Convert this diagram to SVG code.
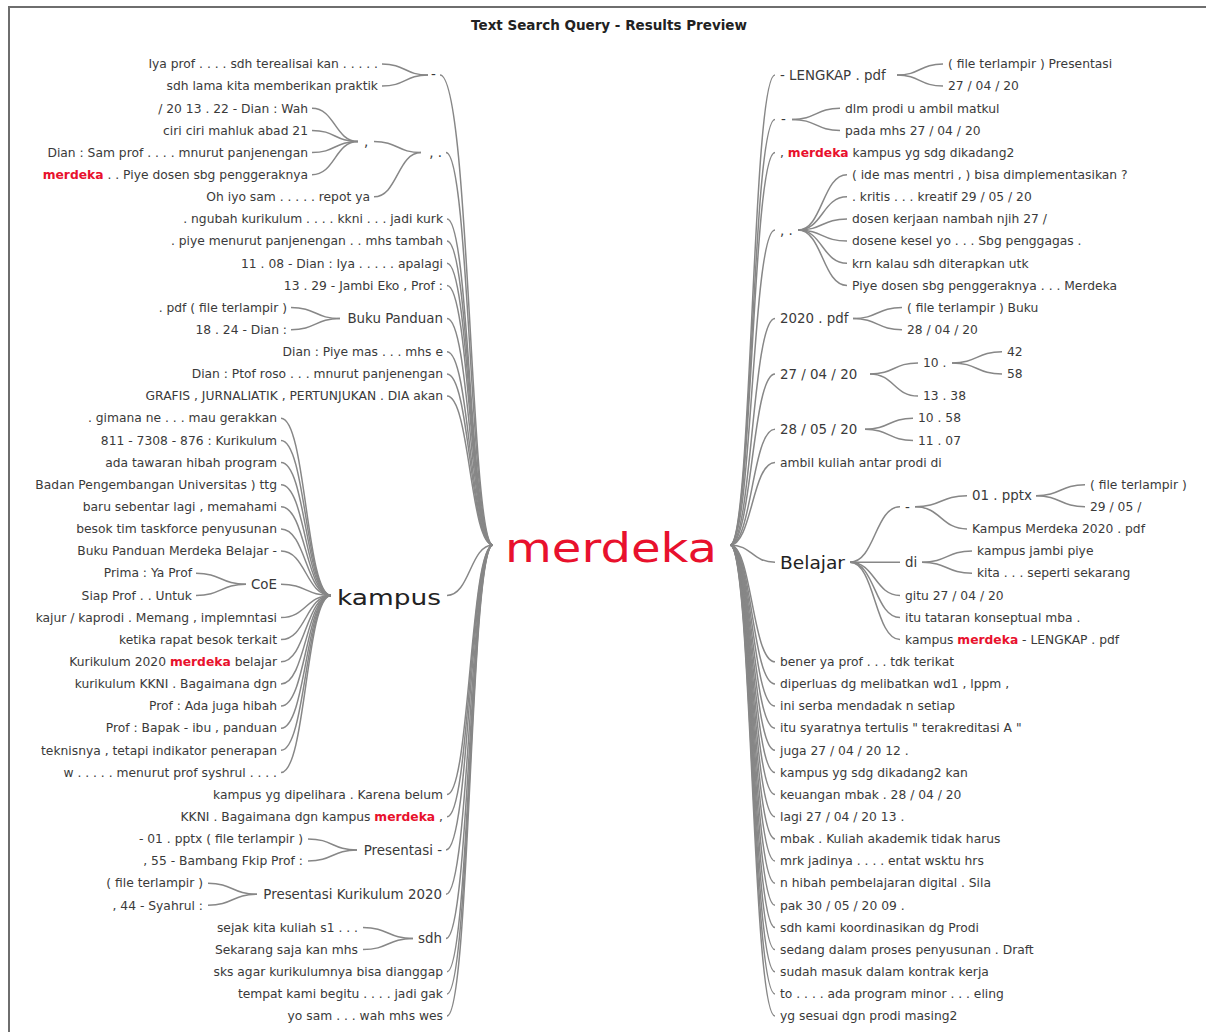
<svg xmlns="http://www.w3.org/2000/svg" width="1206" height="1032" viewBox="0 0 1206 1032">
<style>
text{font-family:"DejaVu Sans","Noto Sans",sans-serif;fill:#3a3a3a}
.t{font-size:12.3px}
.m{font-size:13.4px}
.e{text-anchor:end}
.hl{fill:#e8112d;font-weight:bold}
.c path{fill:none;stroke:#878787;stroke-width:1.5}
</style>
<rect x="0" y="0" width="1206" height="1032" fill="#ffffff"/>
<rect x="9" y="7" width="1300" height="1100" fill="none" stroke="#6e6e6e" stroke-width="2"/>
<text x="609" y="30" text-anchor="middle" style="font-size:13.5px;font-weight:bold;fill:#222">Text Search Query - Results Preview</text>

<g class="c" id="connectors">
<path d="M440,75.1 C470,75.1 470,545 493,545"/>
<path d="M446,152.6 C470,152.6 470,545 493,545"/>
<path d="M447,219 C470,219 470,545 493,545"/>
<path d="M447,241.1 C470,241.1 470,545 493,545"/>
<path d="M447,263.3 C470,263.3 470,545 493,545"/>
<path d="M447,285.4 C470,285.4 470,545 493,545"/>
<path d="M447,318.6 C470,318.6 470,545 493,545"/>
<path d="M447,351.8 C470,351.8 470,545 493,545"/>
<path d="M447,374 C470,374 470,545 493,545"/>
<path d="M447,396.1 C470,396.1 470,545 493,545"/>
<path d="M447,595.4 C470,595.4 470,545 493,545"/>
<path d="M447,794.6 C470,794.6 470,545 493,545"/>
<path d="M447,816.8 C470,816.8 470,545 493,545"/>
<path d="M446,850 C470,850 470,545 493,545"/>
<path d="M446,894.3 C470,894.3 470,545 493,545"/>
<path d="M446,938.5 C470,938.5 470,545 493,545"/>
<path d="M447,971.7 C470,971.7 470,545 493,545"/>
<path d="M447,993.9 C470,993.9 470,545 493,545"/>
<path d="M447,1016 C470,1016 470,545 493,545"/>
<path d="M382,64 C405,64 405,75.1 428,75.1"/>
<path d="M382,86.1 C405,86.1 405,75.1 428,75.1"/>
<path d="M374,141.5 C397.5,141.5 397.5,152.6 421,152.6"/>
<path d="M374,196.8 C397.5,196.8 397.5,152.6 421,152.6"/>
<path d="M312,108.3 C335,108.3 335,141.5 358,141.5"/>
<path d="M312,130.4 C335,130.4 335,141.5 358,141.5"/>
<path d="M312,152.6 C335,152.6 335,141.5 358,141.5"/>
<path d="M312,174.7 C335,174.7 335,141.5 358,141.5"/>
<path d="M291,307.5 C315.5,307.5 315.5,318.6 340,318.6"/>
<path d="M291,329.7 C315.5,329.7 315.5,318.6 340,318.6"/>
<path d="M281,418.2 C306,418.2 306,595.4 331,595.4"/>
<path d="M281,440.4 C306,440.4 306,595.4 331,595.4"/>
<path d="M281,462.5 C306,462.5 306,595.4 331,595.4"/>
<path d="M281,484.7 C306,484.7 306,595.4 331,595.4"/>
<path d="M281,506.8 C306,506.8 306,595.4 331,595.4"/>
<path d="M281,528.9 C306,528.9 306,595.4 331,595.4"/>
<path d="M281,551.1 C306,551.1 306,595.4 331,595.4"/>
<path d="M281,584.3 C306,584.3 306,595.4 331,595.4"/>
<path d="M281,617.5 C306,617.5 306,595.4 331,595.4"/>
<path d="M281,639.6 C306,639.6 306,595.4 331,595.4"/>
<path d="M281,661.8 C306,661.8 306,595.4 331,595.4"/>
<path d="M281,683.9 C306,683.9 306,595.4 331,595.4"/>
<path d="M281,706.1 C306,706.1 306,595.4 331,595.4"/>
<path d="M281,728.2 C306,728.2 306,595.4 331,595.4"/>
<path d="M281,750.3 C306,750.3 306,595.4 331,595.4"/>
<path d="M281,772.5 C306,772.5 306,595.4 331,595.4"/>
<path d="M196,573.2 C221,573.2 221,584.3 246,584.3"/>
<path d="M196,595.4 C221,595.4 221,584.3 246,584.3"/>
<path d="M308,838.9 C332.5,838.9 332.5,850 357,850"/>
<path d="M308,861 C332.5,861 332.5,850 357,850"/>
<path d="M208,883.2 C232.5,883.2 232.5,894.3 257,894.3"/>
<path d="M208,905.3 C232.5,905.3 232.5,894.3 257,894.3"/>
<path d="M363,927.5 C388,927.5 388,938.5 413,938.5"/>
<path d="M363,949.6 C388,949.6 388,938.5 413,938.5"/>
<path d="M775,75.1 C752,75.1 752,545 730,545"/>
<path d="M775,119.4 C752,119.4 752,545 730,545"/>
<path d="M775,152.6 C752,152.6 752,545 730,545"/>
<path d="M775,230.1 C752,230.1 752,545 730,545"/>
<path d="M775,318.6 C752,318.6 752,545 730,545"/>
<path d="M775,374 C752,374 752,545 730,545"/>
<path d="M775,429.3 C752,429.3 752,545 730,545"/>
<path d="M775,462.5 C752,462.5 752,545 730,545"/>
<path d="M775,562.2 C752,562.2 752,545 730,545"/>
<path d="M775,661.8 C752,661.8 752,545 730,545"/>
<path d="M775,683.9 C752,683.9 752,545 730,545"/>
<path d="M775,706.1 C752,706.1 752,545 730,545"/>
<path d="M775,728.2 C752,728.2 752,545 730,545"/>
<path d="M775,750.3 C752,750.3 752,545 730,545"/>
<path d="M775,772.5 C752,772.5 752,545 730,545"/>
<path d="M775,794.6 C752,794.6 752,545 730,545"/>
<path d="M775,816.8 C752,816.8 752,545 730,545"/>
<path d="M775,838.9 C752,838.9 752,545 730,545"/>
<path d="M775,861 C752,861 752,545 730,545"/>
<path d="M775,883.2 C752,883.2 752,545 730,545"/>
<path d="M775,905.3 C752,905.3 752,545 730,545"/>
<path d="M775,927.5 C752,927.5 752,545 730,545"/>
<path d="M775,949.6 C752,949.6 752,545 730,545"/>
<path d="M775,971.7 C752,971.7 752,545 730,545"/>
<path d="M775,993.9 C752,993.9 752,545 730,545"/>
<path d="M775,1016 C752,1016 752,545 730,545"/>
<path d="M943,64 C920,64 920,75.1 897,75.1"/>
<path d="M943,86.1 C920,86.1 920,75.1 897,75.1"/>
<path d="M840,108.3 C816,108.3 816,119.4 792,119.4"/>
<path d="M840,130.4 C816,130.4 816,119.4 792,119.4"/>
<path d="M847,174.7 C822.5,174.7 822.5,230.1 798,230.1"/>
<path d="M847,196.8 C822.5,196.8 822.5,230.1 798,230.1"/>
<path d="M847,219 C822.5,219 822.5,230.1 798,230.1"/>
<path d="M847,241.1 C822.5,241.1 822.5,230.1 798,230.1"/>
<path d="M847,263.3 C822.5,263.3 822.5,230.1 798,230.1"/>
<path d="M847,285.4 C822.5,285.4 822.5,230.1 798,230.1"/>
<path d="M902,307.5 C877.5,307.5 877.5,318.6 853,318.6"/>
<path d="M902,329.7 C877.5,329.7 877.5,318.6 853,318.6"/>
<path d="M918,362.9 C894,362.9 894,374 870,374"/>
<path d="M918,396.1 C894,396.1 894,374 870,374"/>
<path d="M1002,351.8 C977,351.8 977,362.9 952,362.9"/>
<path d="M1002,374 C977,374 977,362.9 952,362.9"/>
<path d="M913,418.2 C889,418.2 889,429.3 865,429.3"/>
<path d="M913,440.4 C889,440.4 889,429.3 865,429.3"/>
<path d="M900,506.8 C875,506.8 875,562.2 850,562.2"/>
<path d="M900,562.2 C875,562.2 875,562.2 850,562.2"/>
<path d="M900,595.4 C875,595.4 875,562.2 850,562.2"/>
<path d="M900,617.5 C875,617.5 875,562.2 850,562.2"/>
<path d="M900,639.6 C875,639.6 875,562.2 850,562.2"/>
<path d="M967,495.7 C941,495.7 941,506.8 915,506.8"/>
<path d="M967,528.9 C941,528.9 941,506.8 915,506.8"/>
<path d="M1085,484.7 C1060.5,484.7 1060.5,495.7 1036,495.7"/>
<path d="M1085,506.8 C1060.5,506.8 1060.5,495.7 1036,495.7"/>
<path d="M972,551.1 C947,551.1 947,562.2 922,562.2"/>
<path d="M972,573.2 C947,573.2 947,562.2 922,562.2"/>
</g>

<g id="n-root"><text x="505" y="562" textLength="212" lengthAdjust="spacingAndGlyphs" style="font-size:40px;fill:#e8112d">merdeka</text></g>

<g id="n-l-dash"><text class="m" x="431" y="79">-</text></g>
<g id="n-l-l1"><text class="t e" x="378" y="68.2">Iya prof . . . . sdh terealisai kan . . . . .</text></g>
<g id="n-l-l2"><text class="t e" x="378" y="90.3">sdh lama kita memberikan praktik</text></g>
<g id="n-l-commadot"><text class="m e" x="442" y="157.3">, .</text></g>
<g id="n-l-comma"><text class="m" x="364" y="146.2">,</text></g>
<g id="n-l-l3"><text class="t e" x="308" y="112.5">/ 20 13 . 22 - Dian : Wah</text></g>
<g id="n-l-l4"><text class="t e" x="308" y="134.6">ciri ciri mahluk abad 21</text></g>
<g id="n-l-l5"><text class="t e" x="308" y="156.8">Dian : Sam prof . . . . mnurut panjenengan</text></g>
<g id="n-l-l6"><text class="t e" x="308" y="178.9"><tspan class="hl">merdeka</tspan> . . Piye dosen sbg penggeraknya</text></g>
<g id="n-l-l7"><text class="t e" x="370" y="201">Oh iyo sam . . . . . repot ya</text></g>
<g id="n-l-l8"><text class="t e" x="443" y="223.2">. ngubah kurikulum . . . . kkni . . . jadi kurk</text></g>
<g id="n-l-l9"><text class="t e" x="443" y="245.3">. piye menurut panjenengan . . mhs tambah</text></g>
<g id="n-l-l10"><text class="t e" x="443" y="267.5">11 . 08 - Dian : Iya . . . . . apalagi</text></g>
<g id="n-l-l11"><text class="t e" x="443" y="289.6">13 . 29 - Jambi Eko , Prof :</text></g>
<g id="n-l-buku"><text class="m e" x="443" y="323.3">Buku Panduan</text></g>
<g id="n-l-l12"><text class="t e" x="287" y="311.7">. pdf ( file terlampir )</text></g>
<g id="n-l-l13"><text class="t e" x="287" y="333.9">18 . 24 - Dian :</text></g>
<g id="n-l-l14"><text class="t e" x="443" y="356">Dian : Piye mas . . . mhs e</text></g>
<g id="n-l-l15"><text class="t e" x="443" y="378.2">Dian : Ptof roso . . . mnurut panjenengan</text></g>
<g id="n-l-l16"><text class="t e" x="443" y="400.3">GRAFIS , JURNALIATIK , PERTUNJUKAN . DIA akan</text></g>
<g id="n-l-kampus"><text x="337" y="605" textLength="104" lengthAdjust="spacingAndGlyphs" style="font-size:22px;fill:#222">kampus</text></g>
<g id="n-l-l17"><text class="t e" x="277" y="422.4">. gimana ne . . . mau gerakkan</text></g>
<g id="n-l-l18"><text class="t e" x="277" y="444.6">811 - 7308 - 876 : Kurikulum</text></g>
<g id="n-l-l19"><text class="t e" x="277" y="466.7">ada tawaran hibah program</text></g>
<g id="n-l-l20"><text class="t e" x="277" y="488.9">Badan Pengembangan Universitas ) ttg</text></g>
<g id="n-l-l21"><text class="t e" x="277" y="511">baru sebentar lagi , memahami</text></g>
<g id="n-l-l22"><text class="t e" x="277" y="533.1">besok tim taskforce penyusunan</text></g>
<g id="n-l-l23"><text class="t e" x="277" y="555.3">Buku Panduan Merdeka Belajar -</text></g>
<g id="n-l-coe"><text class="m e" x="277" y="589">CoE</text></g>
<g id="n-l-l24"><text class="t e" x="192" y="577.4">Prima : Ya Prof</text></g>
<g id="n-l-l25"><text class="t e" x="192" y="599.6">Siap Prof . . Untuk</text></g>
<g id="n-l-l26"><text class="t e" x="277" y="621.7">kajur / kaprodi . Memang , implemntasi</text></g>
<g id="n-l-l27"><text class="t e" x="277" y="643.8">ketika rapat besok terkait</text></g>
<g id="n-l-l28"><text class="t e" x="277" y="666">Kurikulum 2020 <tspan class="hl">merdeka</tspan> belajar</text></g>
<g id="n-l-l29"><text class="t e" x="277" y="688.1">kurikulum KKNI . Bagaimana dgn</text></g>
<g id="n-l-l30"><text class="t e" x="277" y="710.3">Prof : Ada juga hibah</text></g>
<g id="n-l-l31"><text class="t e" x="277" y="732.4">Prof : Bapak - ibu , panduan</text></g>
<g id="n-l-l32"><text class="t e" x="277" y="754.5">teknisnya , tetapi indikator penerapan</text></g>
<g id="n-l-l33"><text class="t e" x="277" y="776.7">w . . . . . menurut prof syshrul . . . .</text></g>
<g id="n-l-l34"><text class="t e" x="443" y="798.8">kampus yg dipelihara . Karena belum</text></g>
<g id="n-l-l35"><text class="t e" x="443" y="821">KKNI . Bagaimana dgn kampus <tspan class="hl">merdeka</tspan> ,</text></g>
<g id="n-l-pres"><text class="m e" x="442" y="854.7">Presentasi -</text></g>
<g id="n-l-l36"><text class="t e" x="303" y="843.1">- 01 . pptx ( file terlampir )</text></g>
<g id="n-l-l37"><text class="t e" x="303" y="865.2">, 55 - Bambang Fkip Prof :</text></g>
<g id="n-l-presk"><text class="m e" x="442" y="899">Presentasi Kurikulum 2020</text></g>
<g id="n-l-l38"><text class="t e" x="203" y="887.4">( file terlampir )</text></g>
<g id="n-l-l39"><text class="t e" x="203" y="909.5">, 44 - Syahrul :</text></g>
<g id="n-l-sdh"><text class="m e" x="442" y="943.2">sdh</text></g>
<g id="n-l-l40"><text class="t e" x="358" y="931.7">sejak kita kuliah s1 . . .</text></g>
<g id="n-l-l41"><text class="t e" x="358" y="953.8">Sekarang saja kan mhs</text></g>
<g id="n-l-l42"><text class="t e" x="443" y="975.9">sks agar kurikulumnya bisa dianggap</text></g>
<g id="n-l-l43"><text class="t e" x="443" y="998.1">tempat kami begitu . . . . jadi gak</text></g>
<g id="n-l-l44"><text class="t e" x="443" y="1020.2">yo sam . . . wah mhs wes</text></g>

<g id="n-r-lengkap"><text class="m" x="780" y="79.8">- LENGKAP . pdf</text></g>
<g id="n-r-r1"><text class="t" x="948" y="68.2">( file terlampir ) Presentasi</text></g>
<g id="n-r-r2"><text class="t" x="948" y="90.3">27 / 04 / 20</text></g>
<g id="n-r-dash"><text class="m" x="781" y="124">-</text></g>
<g id="n-r-r3"><text class="t" x="845" y="112.5">dlm prodi u ambil matkul</text></g>
<g id="n-r-r4"><text class="t" x="845" y="134.6">pada mhs 27 / 04 / 20</text></g>
<g id="n-r-r5"><text class="t" x="780" y="156.8">, <tspan class="hl">merdeka</tspan> kampus yg sdg dikadang2</text></g>
<g id="n-r-commadot"><text class="m" x="780" y="234.8">, .</text></g>
<g id="n-r-r6"><text class="t" x="852" y="178.9">( ide mas mentri , ) bisa dimplementasikan ?</text></g>
<g id="n-r-r7"><text class="t" x="852" y="201">. kritis . . . kreatif 29 / 05 / 20</text></g>
<g id="n-r-r8"><text class="t" x="852" y="223.2">dosen kerjaan nambah njih 27 /</text></g>
<g id="n-r-r9"><text class="t" x="852" y="245.3">dosene kesel yo . . . Sbg penggagas .</text></g>
<g id="n-r-r10"><text class="t" x="852" y="267.5">krn kalau sdh diterapkan utk</text></g>
<g id="n-r-r11"><text class="t" x="852" y="289.6">Piye dosen sbg penggeraknya . . . Merdeka</text></g>
<g id="n-r-pdf2020"><text class="m" x="780" y="323.3">2020 . pdf</text></g>
<g id="n-r-r12"><text class="t" x="907" y="311.7">( file terlampir ) Buku</text></g>
<g id="n-r-r13"><text class="t" x="907" y="333.9">28 / 04 / 20</text></g>
<g id="n-r-d270420"><text class="m" x="780" y="378.7">27 / 04 / 20</text></g>
<g id="n-r-ten"><text class="t" x="923" y="367.1">10 .</text></g>
<g id="n-r-r14"><text class="t" x="1007" y="356">42</text></g>
<g id="n-r-r15"><text class="t" x="1007" y="378.2">58</text></g>
<g id="n-r-r16"><text class="t" x="923" y="400.3">13 . 38</text></g>
<g id="n-r-d280520"><text class="m" x="780" y="434">28 / 05 / 20</text></g>
<g id="n-r-r17"><text class="t" x="918" y="422.4">10 . 58</text></g>
<g id="n-r-r18"><text class="t" x="918" y="444.6">11 . 07</text></g>
<g id="n-r-r19"><text class="t" x="780" y="466.7">ambil kuliah antar prodi di</text></g>
<g id="n-r-belajar"><text x="780" y="569" textLength="65" lengthAdjust="spacingAndGlyphs" style="font-size:17.5px;fill:#222">Belajar</text></g>
<g id="n-r-bdash"><text class="m" x="905" y="511.5">-</text></g>
<g id="n-r-pptx"><text class="m" x="972" y="500.4">01 . pptx</text></g>
<g id="n-r-r20"><text class="t" x="1090" y="488.9">( file terlampir )</text></g>
<g id="n-r-r21"><text class="t" x="1090" y="511">29 / 05 /</text></g>
<g id="n-r-r22"><text class="t" x="972" y="533.1">Kampus Merdeka 2020 . pdf</text></g>
<g id="n-r-di"><text class="m" x="905" y="566.9">di</text></g>
<g id="n-r-r23"><text class="t" x="977" y="555.3">kampus jambi piye</text></g>
<g id="n-r-r24"><text class="t" x="977" y="577.4">kita . . . seperti sekarang</text></g>
<g id="n-r-r25"><text class="t" x="905" y="599.6">gitu 27 / 04 / 20</text></g>
<g id="n-r-r26"><text class="t" x="905" y="621.7">itu tataran konseptual mba .</text></g>
<g id="n-r-r27"><text class="t" x="905" y="643.8">kampus <tspan class="hl">merdeka</tspan> - LENGKAP . pdf</text></g>
<g id="n-r-r28"><text class="t" x="780" y="666">bener ya prof . . . tdk terikat</text></g>
<g id="n-r-r29"><text class="t" x="780" y="688.1">diperluas dg melibatkan wd1 , lppm ,</text></g>
<g id="n-r-r30"><text class="t" x="780" y="710.3">ini serba mendadak n setiap</text></g>
<g id="n-r-r31"><text class="t" x="780" y="732.4">itu syaratnya tertulis " terakreditasi A "</text></g>
<g id="n-r-r32"><text class="t" x="780" y="754.5">juga 27 / 04 / 20 12 .</text></g>
<g id="n-r-r33"><text class="t" x="780" y="776.7">kampus yg sdg dikadang2 kan</text></g>
<g id="n-r-r34"><text class="t" x="780" y="798.8">keuangan mbak . 28 / 04 / 20</text></g>
<g id="n-r-r35"><text class="t" x="780" y="821">lagi 27 / 04 / 20 13 .</text></g>
<g id="n-r-r36"><text class="t" x="780" y="843.1">mbak . Kuliah akademik tidak harus</text></g>
<g id="n-r-r37"><text class="t" x="780" y="865.2">mrk jadinya . . . . entat wsktu hrs</text></g>
<g id="n-r-r38"><text class="t" x="780" y="887.4">n hibah pembelajaran digital . Sila</text></g>
<g id="n-r-r39"><text class="t" x="780" y="909.5">pak 30 / 05 / 20 09 .</text></g>
<g id="n-r-r40"><text class="t" x="780" y="931.7">sdh kami koordinasikan dg Prodi</text></g>
<g id="n-r-r41"><text class="t" x="780" y="953.8">sedang dalam proses penyusunan . Draft</text></g>
<g id="n-r-r42"><text class="t" x="780" y="975.9">sudah masuk dalam kontrak kerja</text></g>
<g id="n-r-r43"><text class="t" x="780" y="998.1">to . . . . ada program minor . . . eling</text></g>
<g id="n-r-r44"><text class="t" x="780" y="1020.2">yg sesuai dgn prodi masing2</text></g>
</svg>
